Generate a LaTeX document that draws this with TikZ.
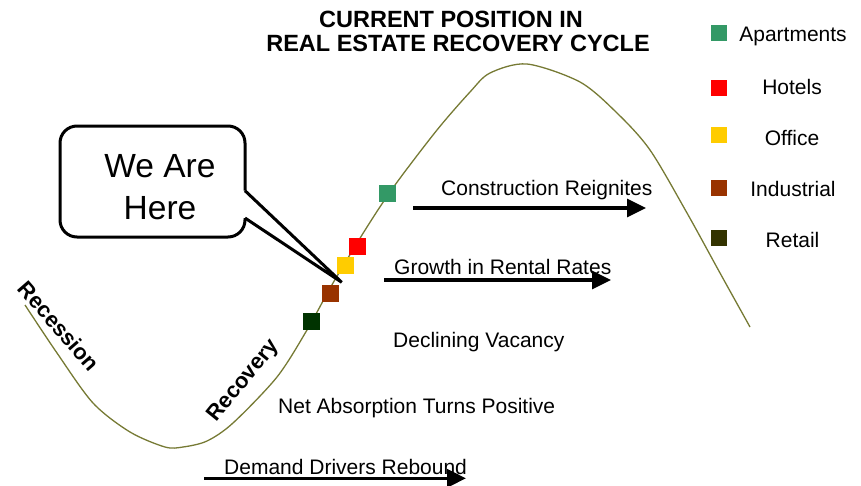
\documentclass[tikz,border=0pt]{standalone}
\usepackage{fontspec}
\setmainfont{Liberation Sans}
\usetikzlibrary{arrows.meta}
\definecolor{curvecol}{RGB}{118,122,52}
\definecolor{aptcol}{RGB}{51,153,102}
\definecolor{hotcol}{RGB}{255,0,0}
\definecolor{offcol}{RGB}{255,204,0}
\definecolor{indcol}{RGB}{153,51,0}
\definecolor{retcol}{RGB}{51,51,0}
\definecolor{retcurve}{RGB}{0,51,0}
\tikzset{
  curveline/.style={draw=curvecol, line width=1.3pt},
  sq/.style={rectangle, inner sep=0pt, minimum size=17pt, fill=#1},
  legsq/.style={rectangle, inner sep=0pt, minimum size=16pt, fill=#1},
  lbl/.style={inner sep=0pt, font=\fontsize{21}{25}\selectfont},
  bold lbl/.style={inner sep=0pt, font=\fontsize{22}{25}\selectfont\bfseries},
  bigarrow/.style={line width=3.3pt, -{Triangle[length=19pt,width=18pt]}},
  calloutline/.style={line width=3pt, draw=black},
  titlefont/.style={inner sep=0pt, anchor=base, font=\fontsize{23.5}{24}\selectfont\bfseries},
}
\begin{document}
\begin{tikzpicture}[x=1pt,y=-1pt]
\useasboundingbox (0,0) rectangle (861,485);
% title
\node[titlefont] (t1) at (451,27.7) {CURRENT POSITION IN};
\node[titlefont] (t2) at (458,51.7) {REAL ESTATE RECOVERY CYCLE};
% curve
\draw[curveline] plot[smooth, tension=0.5] coordinates {(25,305) (57,353) (93,403) (130,432) (165,447) (183,447) (207,441) (233,423) (277,377) (307,330) (333,283) (367,227) (395,185) (437,130) (470,92) (490,73) (527,64) (580,82) (617,113) (650,150) (687,213) (720,273) (750,327)};
% squares on curve
\node[sq=aptcol] (qa) at (387,193.5) {};
\node[sq=hotcol] (qh) at (357.5,246) {};
\node[sq=offcol] (qo) at (345.5,265.2) {};
\node[sq=indcol] (qi) at (330.5,293.2) {};
\node[sq=retcurve] (qr) at (311.5,321.3) {};
% legend
\node[legsq=aptcol] (la) at (719,33) {};
\node[legsq=hotcol] (lh) at (719,88) {};
\node[legsq=offcol] (lo) at (719,134.5) {};
\node[legsq=indcol] (li) at (719,188) {};
\node[legsq=retcol] (lr) at (719,237.5) {};
\node[lbl, anchor=base] (ta) at (793,41.7) {Apartments};
\node[lbl, anchor=base] (th) at (792,94.3) {Hotels};
\node[lbl, anchor=base] (to) at (792,145) {Office};
\node[lbl, anchor=base] (ti) at (793,196) {Industrial};
\node[lbl, anchor=base] (tr) at (792.5,247.3) {Retail};
% phase labels
\node[lbl, anchor=base west] (cr) at (441,195.7) {Construction Reignites};
\node[lbl, anchor=base west] (gr) at (394,274) {Growth in Rental Rates};
\node[lbl, anchor=base west] (dv) at (393,347) {Declining Vacancy};
\node[lbl, anchor=base west] (na) at (278,413.3) {Net Absorption Turns Positive};
\node[lbl, anchor=base west] (dd) at (224,474) {Demand Drivers Rebound};
% arrows
\coordinate (crs) at (413,208);
\coordinate (cre) at (646,208);
\coordinate (grs) at (384,280);
\coordinate (gre) at (611,280);
\coordinate (dds) at (204,478.3);
\coordinate (dde) at (466,478.3);
\draw[bigarrow] (crs) -- (cre);
\draw[bigarrow] (grs) -- (gre);
\draw[bigarrow] (dds) -- (dde);
% rotated labels
\node[bold lbl, rotate=-49] (rec) at (59,326) {Recession};
\node[bold lbl, rotate=51] (rcv) at (244,381) {Recovery};
% callout
\fill[white, rounded corners=17pt] (60,126) rectangle (245,237);
\draw[calloutline, rounded corners=17pt] (245,190.7) -- (245,126) -- (60,126) -- (60,237) -- (245,237) -- (245,218);
\coordinate (tip) at (341.7,282.3);
\coordinate (pa) at (245,190.7);
\coordinate (pb) at (245,218);
\draw[calloutline, fill=white, line join=miter] (pa) -- (tip) -- (pb);
\node[inner sep=0pt, anchor=base, font=\fontsize{33.5}{42}\selectfont] (we1) at (160,177.3) {We Are};
\node[inner sep=0pt, anchor=base, font=\fontsize{33.5}{42}\selectfont] (we2) at (160,219.3) {Here};
\end{tikzpicture}
\end{document}
